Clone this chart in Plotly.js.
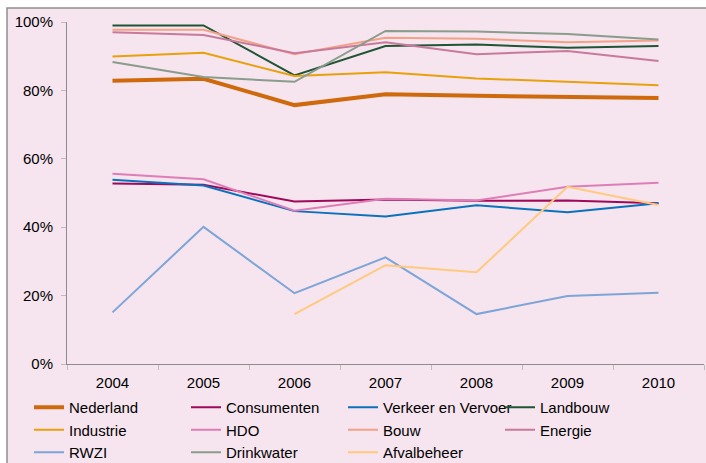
<!DOCTYPE html>
<html>
<head>
<meta charset="utf-8">
<script src="https://cdn.plot.ly/plotly-3.0.1.min.js"></script>
<style>html,body{margin:0;padding:0;background:#fff;}#chart{width:706px;height:463px;}</style>
</head>
<body>
<div id="chart"></div>
<script>
var years = ['2004', '2005', '2006', '2007', '2008', '2009', '2010'];
var yTickVals = [0, 0.2, 0.4, 0.6, 0.8, 1.0];

var nederland   = [0.828, 0.834, 0.757, 0.789, 0.784, 0.780, 0.778];
var consumenten = [0.528, 0.524, 0.475, 0.481, 0.477, 0.478, 0.470];
var verkeer     = [0.539, 0.522, 0.447, 0.431, 0.464, 0.444, 0.470];
var landbouw    = [0.990, 0.990, 0.844, 0.930, 0.934, 0.925, 0.930];
var industrie   = [0.899, 0.910, 0.842, 0.853, 0.835, 0.825, 0.815];
var hdo         = [0.556, 0.540, 0.448, 0.483, 0.478, 0.518, 0.530];
var bouw        = [0.977, 0.977, 0.906, 0.954, 0.951, 0.941, 0.946];
var energie     = [0.970, 0.962, 0.909, 0.941, 0.906, 0.915, 0.886];
var rwzi        = [0.151, 0.401, 0.207, 0.312, 0.146, 0.199, 0.208];
var drinkwater  = [0.883, 0.839, 0.825, 0.974, 0.972, 0.965, 0.949];
var afvalbeheer = [null, null, 0.146, 0.289, 0.268, 0.518, 0.465];

var seriesNames = ['Nederland', 'Consumenten', 'Verkeer en Vervoer', 'Landbouw', 'Industrie', 'HDO', 'Bouw', 'Energie', 'RWZI', 'Drinkwater', 'Afvalbeheer'];
var seriesData = [nederland, consumenten, verkeer, landbouw, industrie, hdo, bouw, energie, rwzi, drinkwater, afvalbeheer];
var seriesColors = ['#CF6A0C', '#A0085A', '#0A72BC', '#1F5434', '#E8A10A', '#DE7EB8', '#F2A287', '#C87A9C', '#7DA5D7', '#8A9C8C', '#FFC97E'];
var seriesWidths = [4, 2, 2, 2, 2, 2, 2, 2, 2, 2, 2];

var traces = seriesNames.map(function (name, i) {
  return {
    type: 'scatter', mode: 'lines', name: name,
    x: years, y: seriesData[i],
    line: {color: seriesColors[i], width: seriesWidths[i]},
    connectgaps: false,
    hoverinfo: 'x+y+name'
  };
});

// plot area in pixels: x 67..704, y 22..364
var L = 67, R = 704, T = 22, B = 364, W = 706, H = 463;
var pw = R - L, ph = B - T;
function px(x) { return (x - L) / pw; }
function py(y) { return (B - y) / ph; }

var font = {family: '"Liberation Sans", Arial, sans-serif', size: 15, color: '#000'};

var layout = {
  width: W, height: H,
  margin: {l: L, r: W - R, t: T, b: H - B, pad: 0, autoexpand: false},
  paper_bgcolor: '#ffffff',
  plot_bgcolor: 'rgba(0,0,0,0)',
  font: font,
  showlegend: true,
  legend: {
    orientation: 'h',
    x: px(29), xanchor: 'left',
    y: py(391), yanchor: 'top',
    bgcolor: 'rgba(0,0,0,0)',
    entrywidth: 112, entrywidthmode: 'pixels',
    itemwidth: 30,
    font: font,
    traceorder: 'normal'
  },
  xaxis: {
    type: 'category',
    range: [-0.5, 6.5],
    showgrid: false, zeroline: false,
    showline: true, linecolor: '#8C8C8C', linewidth: 1,
    ticks: 'outside', ticklen: 5, tickcolor: '#BDBDBD', tickwidth: 1,
    tickson: 'boundaries',
    ticklabelstandoff: 5,
    tickfont: font,
    fixedrange: true
  },
  yaxis: {
    range: [0, 1],
    tickvals: yTickVals,
    tickformat: '.0%',
    showgrid: false, zeroline: false,
    showline: true, linecolor: '#8C8C8C', linewidth: 1,
    ticks: 'outside', ticklen: 5, tickcolor: '#BDBDBD', tickwidth: 1,
    ticklabelstandoff: 5,
    tickfont: font,
    fixedrange: true
  },
  shapes: [
    {
      type: 'rect', xref: 'paper', yref: 'paper', layer: 'below',
      x0: px(7), x1: px(720), y0: py(480), y1: py(8),
      fillcolor: '#F6E4EF',
      line: {color: '#8E8E8E', width: 1.5}
    }
  ]
};

Plotly.newPlot('chart', traces, layout, {displayModeBar: false, staticPlot: true});
</script>
</body>
</html>
